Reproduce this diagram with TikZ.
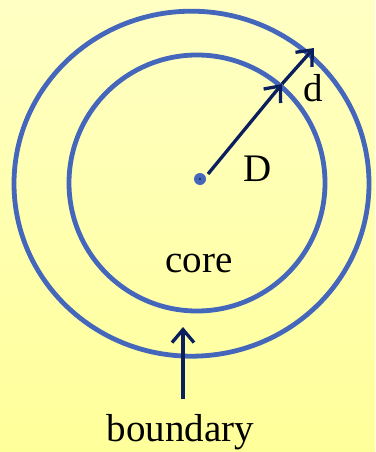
\documentclass[tikz,border=0pt]{standalone}
\usepackage{fontspec}
\setmainfont{Liberation Serif}
\usetikzlibrary{arrows.meta,positioning}
\definecolor{ringblue}{HTML}{4466BB}
\definecolor{arrownavy}{HTML}{0B1F5E}
\definecolor{bgtop}{HTML}{FFFFC4}
\definecolor{bgbottom}{HTML}{FFFF9A}

\begin{document}
\begin{tikzpicture}[
  x=1pt, y=-1pt,
  font=\fontsize{39}{44}\selectfont,
  ring/.style={draw=ringblue, line width=4.8pt},
  pointer/.style={-{Straight Barb[length=13pt,width=22pt]}, draw=arrownavy,
    line width=3.3pt},
  tag/.style={inner sep=0pt, anchor=base}
]
\useasboundingbox (0,0) rectangle (375,452);
\shade[top color=bgtop, bottom color=bgbottom] (0,0) rectangle (375,452);

% rings
\draw[ring] (197,183) circle (128);
\draw[ring] (191.5,183.7) ellipse [x radius=177.5, y radius=172.5];

\coordinate (centre) at (200,179);
\coordinate (rimin) at (282,84);
\coordinate (rimout) at (314,48);
\coordinate (bndtip) at (183,327);

\fill[ringblue] (centre) circle (6);
\fill[black] (centre) circle (0.9);

\node[tag] (lblD) at (257.5,181) {D};
\node[tag] (lbld) at (313,101.7) {d};
\node[tag] (core) at (199,272.7) {core};
\node[tag] (bnd) at (180.5,441.7) {boundary};

\draw[pointer] ([shift={(8,-5)}]centre) -- (rimin);
\draw[pointer] (rimin) -- (rimout);
\draw[pointer] ([xshift=2.5pt,yshift=15pt]bnd.north) -- (bndtip);
\end{tikzpicture}
\end{document}
